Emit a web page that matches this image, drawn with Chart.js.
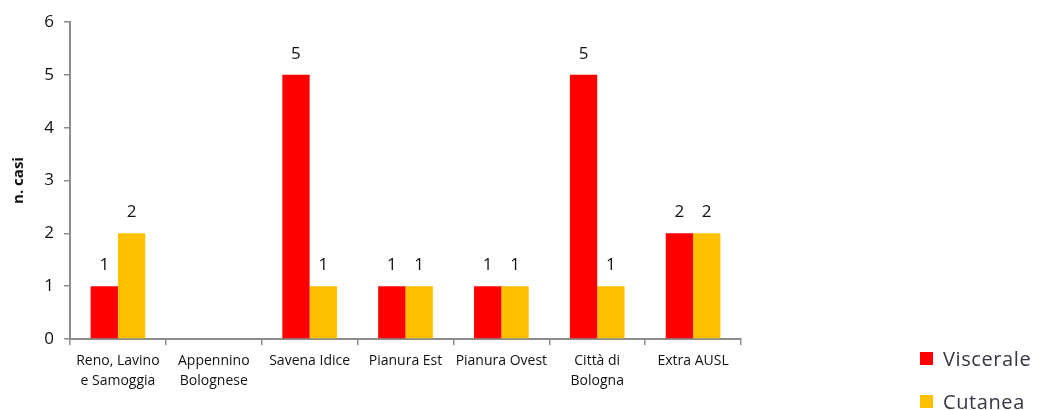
<!DOCTYPE html>
<html>
<head>
<meta charset="utf-8">
<script src="https://cdn.jsdelivr.net/npm/chart.js@4.4.1/dist/chart.umd.min.js"></script>
<style>
  body { margin: 0; background: #fff; }
  #wrap { position: relative; width: 1040px; height: 410px; }
  #legend { position: absolute; left: 920px; top: 337px; font-family: "Open Sans", sans-serif; font-size: 20px; letter-spacing: 0.6px; color: #363644; }
  #legend div { height: 43px; display: flex; align-items: center; white-space: nowrap; }
  #legend span { display: inline-block; width: 13px; height: 13px; margin-right: 10px; flex: none; }
</style>
</head>
<body>
<div id="wrap">
  <canvas id="casiChart" width="1040" height="410"></canvas>
  <div id="legend"></div>
</div>
<script>
// data
const categories = [['Reno, Lavino', 'e Samoggia'], ['Appennino', 'Bolognese'], 'Savena Idice', 'Pianura Est', 'Pianura Ovest', ['Città di', 'Bologna'], 'Extra AUSL'];
const viscerale = [1, null, 5, 1, 1, 5, 2];
const cutanea = [2, null, 1, 1, 1, 1, 2];
const yTicks = [0, 1, 2, 3, 4, 5, 6];

// value labels above bars
const barLabels = {
    id: 'barLabels',
    afterDatasetsDraw(chart) {
        const ctx = chart.ctx;
        ctx.save();
        ctx.font = '17px "Open Sans", sans-serif';
        ctx.fillStyle = '#111';
        ctx.textAlign = 'center';
        ctx.textBaseline = 'middle';
        chart.data.datasets.forEach((ds, i) => {
            chart.getDatasetMeta(i).data.forEach((bar, j) => {
                if (ds.data[j] == null) return;
                ctx.fillText(ds.data[j], bar.x, bar.y - 21);
            });
        });
        ctx.restore();
    }
};

const ctx = document.getElementById('casiChart').getContext('2d');
const casiChart = new Chart(ctx, {
    type: 'bar',
    data: {
        labels: categories,
        datasets: [{
            label: 'Viscerale',
            data: viscerale,
            backgroundColor: '#FF0000'
        }, {
            label: 'Cutanea',
            data: cutanea,
            backgroundColor: '#FFC000'
        }]
    },
    options: {
        responsive: false,
        animation: false,
        layout: { padding: { top: 22, right: 299, left: 0, bottom: 0 } },
        plugins: {
            legend: { display: false },
            tooltip: { enabled: false }
        },
        datasets: {
            bar: { categoryPercentage: 0.57, barPercentage: 1 }
        },
        scales: {
            x: {
                grid: { display: true, drawOnChartArea: false, offset: true, tickLength: 6, color: '#8c8c8c', lineWidth: 1.5 },
                border: { color: '#8c8c8c', width: 2 },
                ticks: { color: '#111', font: { family: '"Open Sans", sans-serif', size: 14, lineHeight: 1.45 }, padding: 6, maxRotation: 0, autoSkip: false },
                afterFit(scale) { scale.height = 71; }
            },
            y: {
                min: 0,
                max: 6,
                afterBuildTicks(scale) { scale.ticks = yTicks.map(v => ({ value: v })); },
                grid: { display: true, drawOnChartArea: false, tickLength: 6, color: '#8c8c8c', lineWidth: 1.5 },
                border: { color: '#8c8c8c', width: 2 },
                ticks: { color: '#111', font: { family: '"Open Sans", sans-serif', size: 17 }, padding: 10 },
                title: { display: true, text: 'n. casi', color: '#111', font: { family: '"Open Sans", sans-serif', size: 15, weight: 'bold' }, padding: { top: 10, bottom: 0 } },
                afterFit(scale) { scale.width = 70; }
            }
        }
    },
    plugins: [barLabels]
});

// legend at the bottom right
const legend = document.getElementById('legend');
casiChart.data.datasets.forEach(ds => {
    const row = document.createElement('div');
    row.innerHTML = '<span style="background:' + ds.backgroundColor + '"></span>' + ds.label;
    legend.appendChild(row);
});
</script>
</body>
</html>
